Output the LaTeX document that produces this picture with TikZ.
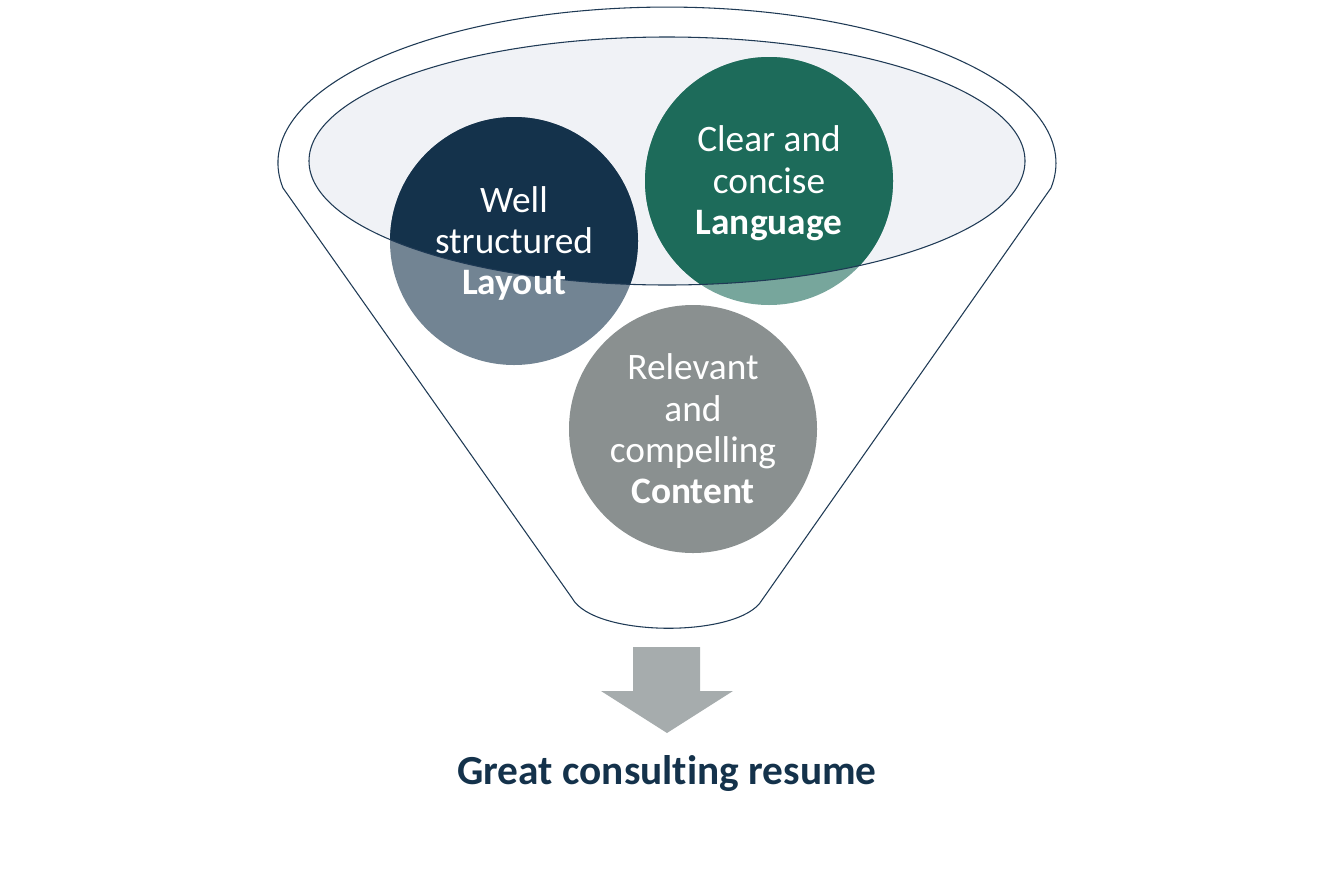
\documentclass[tikz,border=0pt]{standalone}
\usepackage{fontspec}
\setmainfont{Carlito}[Ligatures=NoCommon]
\usepackage{xcolor}
\usepackage{tikz}
\usetikzlibrary{positioning}
\definecolor{navy}{HTML}{14324B}
\definecolor{rimline}{HTML}{1F3A55}
\definecolor{leafgreen}{HTML}{1D6B5A}
\definecolor{slategrey}{HTML}{8A9090}
\definecolor{bowlfill}{HTML}{F0F2F6}
\definecolor{arrowgrey}{HTML}{A6ACAD}
\tikzset{
  rim/.style={draw=rimline,line width=0.8pt},
  bubble/.style={circle,minimum size=186pt,inner sep=0pt,align=center,
    text=white,font=\fontsize{28}{31}\selectfont},
  softfill/.style={fill=#1,opacity=0.6},
  title/.style={text=navy,font=\fontsize{31}{36}\selectfont\bfseries}
}
\begin{document}
\begin{tikzpicture}[x=0.75pt,y=-0.75pt]
  \useasboundingbox (0,0) rectangle (1334,889);
  % funnel outline
  \draw[rim] (283,188) arc[start angle=170.8,end angle=369.2,x radius=389,y radius=156]
    -- (762,600) .. controls (740,638) and (594,638) .. (572,598) -- cycle;
  \fill[bowlfill] (667,161) ellipse[x radius=358,y radius=124];
  % circles: pale outside the bowl, full colour inside it
  \foreach \pos/\col in {(514,241)/navy,(769,181)/leafgreen}{
    \fill[softfill=\col] \pos circle[radius=124];
    \begin{scope}
      \clip (667,161) ellipse[x radius=358,y radius=124];
      \fill[\col] \pos circle[radius=124];
    \end{scope}
  }
  \fill[slategrey] (693,429) circle[radius=124];
  \draw[rim] (667,161) ellipse[x radius=358,y radius=124];
  \node[bubble] (layout) at (514,243.5) {Well\\structured\\\textbf{Layout}};
  \node[bubble] (language) at (769,183.5) {Clear and\\concise\\\textbf{Language}};
  \node[bubble] (content) at (693,429) {Relevant\\and\\compelling\\\textbf{Content}};
  % arrow to result
  \fill[arrowgrey] (633,647) -- (700,647) -- (700,691) -- (733,691) -- (667,733)
    -- (601,691) -- (633,691) -- cycle;
  \node[title] (result) at (667,773) {Great consulting resume};
\end{tikzpicture}
\end{document}
